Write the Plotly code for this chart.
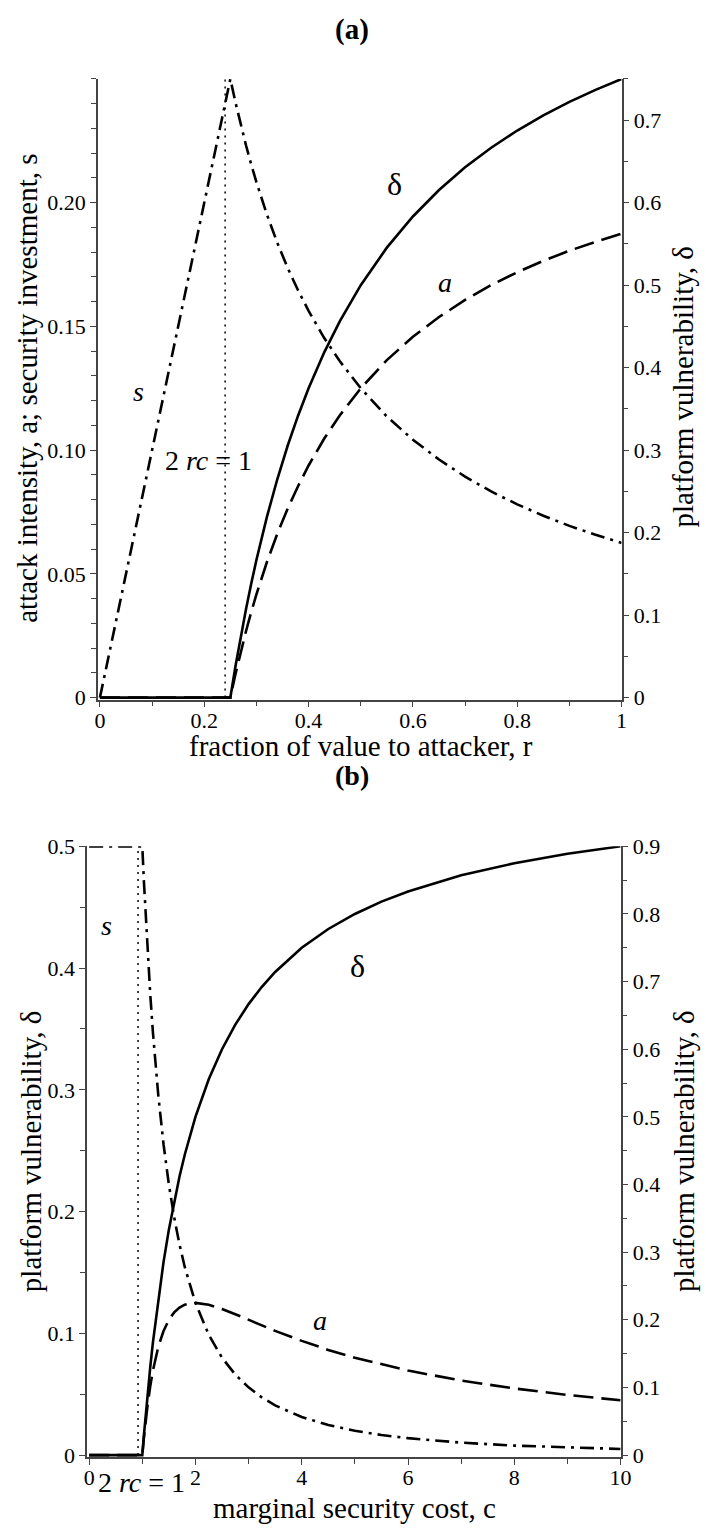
import plotly.graph_objects as go

W, H = 706, 1537

# ---------------- Panel (a) data ----------------
r_vals = [0, 0.25, 0.26, 0.27, 0.28, 0.29, 0.30, 0.32, 0.34, 0.36, 0.38, 0.40,
          0.43, 0.46, 0.50, 0.55, 0.60, 0.65, 0.70, 0.75, 0.80, 0.85, 0.90,
          0.95, 1.00]
delta_a = [0, 0, 0.0385, 0.0741, 0.1071, 0.1379, 0.1667, 0.2188, 0.2647, 0.3056,
           0.3421, 0.375, 0.4186, 0.4565, 0.5, 0.5455, 0.5833, 0.6154, 0.6429,
           0.6667, 0.6875, 0.7059, 0.7222, 0.7368, 0.75]
a_a = [0, 0, 0.0096, 0.0185, 0.0268, 0.0345, 0.0417, 0.0547, 0.0662, 0.0764,
       0.0855, 0.0938, 0.1047, 0.1141, 0.125, 0.1364, 0.1458, 0.1538, 0.1607,
       0.1667, 0.1719, 0.1765, 0.1806, 0.1842, 0.1875]
s_a = [0, 0.25, 0.2404, 0.2315, 0.2232, 0.2155, 0.2083, 0.1953, 0.1838, 0.1736,
       0.1645, 0.1563, 0.1453, 0.1359, 0.125, 0.1136, 0.1042, 0.0962, 0.0893,
       0.0833, 0.0781, 0.0735, 0.0694, 0.0658, 0.0625]
thresh_a_x = [0.24, 0.24]
thresh_a_y = [0, 0.25]

# ---------------- Panel (b) data ----------------
c_vals = [0, 1, 1.03, 1.06, 1.1, 1.15, 1.2, 1.3, 1.4, 1.5, 1.6, 1.7, 1.8, 1.9,
          2.0, 2.25, 2.5, 2.75, 3, 3.25, 3.5, 4, 4.5, 5, 5.5, 6, 7, 8, 9, 10]
delta_b = [0, 0, 0.0291, 0.0566, 0.0909, 0.1304, 0.1667, 0.2308, 0.2857, 0.3333,
           0.375, 0.4118, 0.4444, 0.4737, 0.5, 0.5556, 0.6, 0.6364, 0.6667,
           0.6923, 0.7143, 0.75, 0.7778, 0.8, 0.8182, 0.8333, 0.8571, 0.875,
           0.8889, 0.9]
a_b = [0, 0, 0.0141, 0.0267, 0.0413, 0.0567, 0.0694, 0.0888, 0.1020, 0.1111,
       0.1172, 0.1211, 0.1235, 0.1247, 0.125, 0.1235, 0.12, 0.1157, 0.1111,
       0.1065, 0.1020, 0.0938, 0.0864, 0.08, 0.0744, 0.0694, 0.0612, 0.0547,
       0.0494, 0.045]
s_b = [0.5, 0.5, 0.4713, 0.4450, 0.4132, 0.3781, 0.3472, 0.2959, 0.2551, 0.2222,
       0.1953, 0.1730, 0.1543, 0.1385, 0.125, 0.0988, 0.08, 0.0661, 0.0556,
       0.0473, 0.0408, 0.0313, 0.0247, 0.02, 0.0165, 0.0139, 0.0102, 0.0078,
       0.0062, 0.005]
thresh_b_x = [0.92, 0.92]
thresh_b_y = [0, 0.5]

# tick labels
xa_ticks = [0, 0.2, 0.4, 0.6, 0.8, 1]
xa_text = ["0", "0.2", "0.4", "0.6", "0.8", "1"]
ya_ticks = [0, 0.05, 0.10, 0.15, 0.20]
ya_text = ["0", "0.05", "0.10", "0.15", "0.20"]
ya2_ticks = [0, 0.1, 0.2, 0.3, 0.4, 0.5, 0.6, 0.7]
ya2_text = ["0", "0.1", "0.2", "0.3", "0.4", "0.5", "0.6", "0.7"]
xb_ticks = [0, 2, 4, 6, 8, 10]
xb_text = ["0", "2", "4", "6", "8", "10"]
yb_ticks = [0, 0.1, 0.2, 0.3, 0.4, 0.5]
yb_text = ["0", "0.1", "0.2", "0.3", "0.4", "0.5"]
yb2_ticks = [0, 0.1, 0.2, 0.3, 0.4, 0.5, 0.6, 0.7, 0.8, 0.9]
yb2_text = ["0", "0.1", "0.2", "0.3", "0.4", "0.5", "0.6", "0.7", "0.8", "0.9"]

FONT = "Liberation Serif"
AX = "#444444"


def px_x(p):
    return p / W


def px_y(p):
    return 1 - p / H


def lin_axis(v0, p0, v1, p1, pa, pb):
    """Range for an axis where v0 sits at pixel p0 and v1 at p1,
    the axis spanning pixels pa..pb."""
    k = (v1 - v0) / (p1 - p0)
    return [v0 + (pa - p0) * k, v0 + (pb - p0) * k]


fig = go.Figure()

LW = 2.6
solid = dict(color="black", width=LW)
dashed = dict(color="black", width=LW, dash="20px,8px")
dashdot = dict(color="black", width=LW, dash="14px,6px,3px,6px")
dotted = dict(color="black", width=1.5, dash="2px,5px")

# panel a
fig.add_trace(go.Scatter(x=thresh_a_x, y=thresh_a_y, mode="lines", line=dotted,
                         xaxis="x", yaxis="y", showlegend=False))
fig.add_trace(go.Scatter(x=r_vals, y=s_a, mode="lines", line=dashdot,
                         xaxis="x", yaxis="y", showlegend=False))
fig.add_trace(go.Scatter(x=r_vals, y=a_a, mode="lines", line=dashed,
                         xaxis="x", yaxis="y", showlegend=False))
fig.add_trace(go.Scatter(x=r_vals, y=delta_a, mode="lines", line=solid,
                         xaxis="x", yaxis="y2", showlegend=False))
# panel b
fig.add_trace(go.Scatter(x=thresh_b_x, y=thresh_b_y, mode="lines", line=dotted,
                         xaxis="x2", yaxis="y3", showlegend=False))
fig.add_trace(go.Scatter(x=c_vals, y=s_b, mode="lines", line=dashdot,
                         xaxis="x2", yaxis="y3", showlegend=False))
fig.add_trace(go.Scatter(x=c_vals, y=a_b, mode="lines", line=dashed,
                         xaxis="x2", yaxis="y3", showlegend=False))
fig.add_trace(go.Scatter(x=c_vals, y=delta_b, mode="lines", line=solid,
                         xaxis="x2", yaxis="y4", showlegend=False))

tickfont = dict(family=FONT, size=22, color="black")
common = dict(showline=True, linecolor=AX, linewidth=1.5, ticks="outside",
              tickcolor=AX, tickwidth=1.3, ticklen=6, showgrid=False,
              zeroline=False, tickfont=tickfont, tickmode="array")

# pixel geometry
A_X0, A_X1 = 98, 631      # r=0, r=1
A_Y0, A_Y1 = 696, 68      # value 0, top value
A_LEFT, A_BOT = 96, 698
B_X0, B_X1 = 87, 630
B_Y0, B_Y1 = 1465, 847
B_LEFT, B_BOT = 85, 1467

fig.update_layout(
    width=W, height=H, margin=dict(l=0, r=0, t=0, b=0),
    paper_bgcolor="white", plot_bgcolor="white", showlegend=False,
    xaxis=dict(common, domain=[px_x(A_LEFT), px_x(A_X1)], anchor="y",
               range=lin_axis(0, A_X0, 1, A_X1, A_LEFT, A_X1),
               tickvals=xa_ticks, ticktext=xa_text, ticklabelstandoff=-6,
               minor=dict(dtick=0.1, tick0=0, ticklen=5, tickcolor=AX, ticks="outside")),
    yaxis=dict(common, domain=[px_y(A_BOT), px_y(A_Y1)], anchor="x",
               range=lin_axis(0, A_Y0, 0.25, A_Y1, A_BOT, A_Y1),
               tickvals=ya_ticks, ticktext=ya_text,
               minor=dict(dtick=0.01, tick0=0, ticklen=5, tickcolor=AX, ticks="outside")),
    yaxis2=dict(common, overlaying="y", side="right", anchor="x",
                range=lin_axis(0, A_Y0, 0.75, A_Y1, A_BOT, A_Y1),
                tickvals=ya2_ticks, ticktext=ya2_text,
                minor=dict(dtick=0.05, tick0=0, ticklen=5, tickcolor=AX, ticks="outside")),
    xaxis2=dict(common, domain=[px_x(B_LEFT), px_x(B_X1)], anchor="y3",
                range=lin_axis(0, B_X0, 10, B_X1, B_LEFT, B_X1),
                tickvals=xb_ticks, ticktext=xb_text, ticklabelstandoff=-6,
                minor=dict(dtick=1, tick0=0, ticklen=5, tickcolor=AX, ticks="outside")),
    yaxis3=dict(common, domain=[px_y(B_BOT), px_y(B_Y1)], anchor="x2",
                range=lin_axis(0, B_Y0, 0.5, B_Y1, B_BOT, B_Y1),
                tickvals=yb_ticks, ticktext=yb_text,
                minor=dict(dtick=0.05, tick0=0, ticklen=5, tickcolor=AX, ticks="outside")),
    yaxis4=dict(common, overlaying="y3", side="right", anchor="x2",
                range=lin_axis(0, B_Y0, 0.9, B_Y1, B_BOT, B_Y1),
                tickvals=yb2_ticks, ticktext=yb2_text,
                minor=dict(dtick=0.05, tick0=0, ticklen=5, tickcolor=AX, ticks="outside")),
)


def note(text, x, y, size=28, angle=0, bold=False):
    if bold:
        text = "<b>" + text + "</b>"
    fig.add_annotation(text=text, x=px_x(x), y=px_y(y), xref="paper", yref="paper",
                       xanchor="center", yanchor="middle", showarrow=False,
                       textangle=angle, font=dict(family=FONT, size=size, color="black"))


# titles
note("(a)", 356, 18, size=29, bold=True)
note("(b)", 356, 775, size=28, bold=True)
# axis titles
note("fraction of value to attacker, r", 365, 745, size=29)
note("attack intensity, a; security investment, s", 24, 382, size=29, angle=-90)
note("platform vulnerability, δ", 694, 380, size=29, angle=-90)
note("marginal security cost, c", 358, 1519, size=29)
note("platform vulnerability, δ", 27, 1156, size=29, angle=-90)
note("platform vulnerability, δ", 694, 1156, size=29, angle=-90)
# curve labels
note("δ", 399, 175, size=32)
note("<i>a</i>", 451, 275, size=28)
note("<i>s</i>", 137, 385, size=28)
note("2 <i>rc</i> = 1", 209, 455, size=28)
note("δ", 361, 968, size=32)
note("<i>a</i>", 323, 1328, size=28)
note("<i>s</i>", 105, 927, size=28)
note("2 <i>rc</i> = 1", 140, 1493, size=28)

fig.write_html("out.html", config={"displayModeBar": False},
               post_script="document.body.style.margin='0';")
